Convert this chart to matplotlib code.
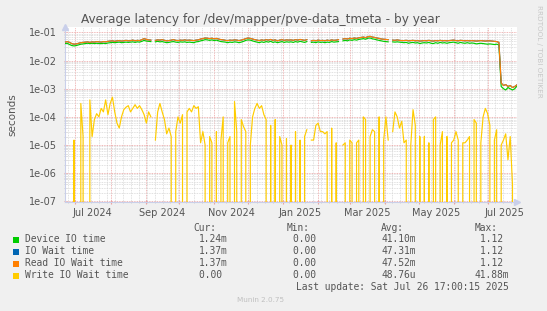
import numpy as np
import pandas as pd
import matplotlib
matplotlib.use("Agg")
import matplotlib.pyplot as plt
import matplotlib.dates as mdates
from matplotlib.patches import Rectangle
from matplotlib.ticker import FuncFormatter, LogLocator, NullFormatter

nan = np.nan

# ---- data (2-day samples, ending at last update) ----
last_update = pd.Timestamp("2025-07-26 17:00:15")
span_days = 400
step_days = 2

read_io_wait = [
    0.045, 0.047, 0.044, 0.040, 0.038, 0.039, 0.041, 0.043, 0.044, 0.045,
    0.046, 0.044, 0.046, 0.045, 0.047, 0.046, 0.045, 0.047, 0.046, 0.048,
    0.049, 0.050, 0.048, 0.050, 0.051, 0.049, 0.050, 0.052, 0.050, 0.051,
    0.053, 0.050, 0.052, 0.051, 0.055, 0.060, 0.056, 0.054, 0.053, nan,
    0.052, 0.054, 0.053, 0.055, 0.052, 0.050, 0.051, 0.053, 0.055, 0.052,
    0.051, 0.053, 0.052, 0.054, 0.052, 0.053, 0.052, 0.051, 0.053, 0.054,
    0.058, 0.060, 0.063, 0.062, 0.060, 0.062, 0.059, 0.061, 0.058, 0.055,
    0.054, 0.052, 0.051, 0.053, 0.052, 0.054, 0.053, 0.051, 0.053, 0.056,
    0.060, 0.063, 0.061, 0.058, 0.055, 0.053, 0.051, 0.054, 0.052, 0.055,
    0.053, 0.056, 0.052, 0.054, 0.050, 0.053, 0.055, 0.052, 0.054, 0.053,
    0.054, 0.052, 0.055, 0.053, 0.056, 0.054, 0.052, 0.055, nan, 0.050,
    0.052, 0.050, 0.053, 0.051, 0.052, 0.050, 0.053, 0.051, 0.054, 0.052,
    0.053, 0.055, nan, 0.058, 0.060, 0.058, 0.062, 0.060, 0.063, 0.061,
    0.064, 0.066, 0.068, 0.065, 0.070, 0.072, 0.068, 0.066, 0.063, 0.061,
    0.058, 0.057, 0.056, 0.055, nan, 0.053, 0.052, 0.054, 0.052, 0.051,
    0.051, 0.052, 0.050, 0.051, 0.052, 0.050, 0.051, 0.049, 0.050, 0.051,
    0.050, 0.052, 0.050, 0.049, 0.051, 0.050, 0.052, 0.050, 0.051, 0.050,
    0.051, 0.052, 0.053, 0.051, 0.050, 0.052, 0.051, 0.050, 0.051, 0.050,
    0.051, 0.050, 0.049, 0.050, 0.051, 0.050, 0.049, 0.050, 0.050, 0.049,
    0.048, 0.047, 0.044, 0.0016, 0.0013, 0.0014, 0.0012, 0.0013, 0.0011, 0.0012,
    0.00137,
]

# IO wait time is drawn underneath and coincides with read IO wait time
io_wait = list(read_io_wait)

device_io = [
    0.040, 0.041, 0.037, 0.034, 0.033, 0.034, 0.036, 0.038, 0.039, 0.040,
    0.041, 0.040, 0.041, 0.040, 0.041, 0.040, 0.040, 0.041, 0.040, 0.042,
    0.043, 0.044, 0.043, 0.044, 0.045, 0.043, 0.044, 0.045, 0.044, 0.045,
    0.046, 0.044, 0.046, 0.045, 0.048, 0.052, 0.049, 0.048, 0.047, nan,
    0.046, 0.048, 0.046, 0.047, 0.045, 0.043, 0.044, 0.046, 0.047, 0.045,
    0.044, 0.046, 0.045, 0.046, 0.044, 0.045, 0.044, 0.043, 0.046, 0.047,
    0.050, 0.052, 0.055, 0.054, 0.052, 0.054, 0.051, 0.053, 0.050, 0.047,
    0.046, 0.045, 0.043, 0.045, 0.044, 0.046, 0.045, 0.043, 0.045, 0.048,
    0.052, 0.054, 0.053, 0.050, 0.047, 0.045, 0.043, 0.046, 0.044, 0.047,
    0.045, 0.048, 0.044, 0.046, 0.043, 0.045, 0.047, 0.044, 0.046, 0.045,
    0.046, 0.044, 0.047, 0.045, 0.048, 0.046, 0.044, 0.047, nan, 0.044,
    0.045, 0.043, 0.046, 0.044, 0.045, 0.043, 0.045, 0.044, 0.047, 0.045,
    0.046, 0.047, nan, 0.050, 0.052, 0.050, 0.054, 0.052, 0.055, 0.053,
    0.056, 0.058, 0.060, 0.057, 0.062, 0.063, 0.059, 0.057, 0.054, 0.052,
    0.050, 0.048, 0.047, 0.046, nan, 0.046, 0.045, 0.046, 0.045, 0.044,
    0.043, 0.044, 0.041, 0.043, 0.044, 0.042, 0.043, 0.040, 0.042, 0.043,
    0.042, 0.044, 0.041, 0.040, 0.043, 0.041, 0.044, 0.042, 0.043, 0.041,
    0.043, 0.044, 0.045, 0.043, 0.041, 0.044, 0.042, 0.041, 0.043, 0.041,
    0.042, 0.041, 0.039, 0.040, 0.041, 0.040, 0.039, 0.038, 0.039, 0.038,
    0.037, 0.038, 0.036, 0.0012, 0.0010, 0.0009, 0.0011, 0.0010, 0.0009, 0.0010,
    0.00124,
]

write_io_wait = [
    0, 0, 0, 0, 1.5e-5, 0, 0, 3e-4, 2e-5, 0,
    0, 4e-4, 2e-5, 8e-5, 1.3e-4, 1e-4, 2e-4, 1.5e-4, 4e-4, 1.2e-4,
    3e-4, 5e-4, 1.5e-4, 6e-5, 4e-5, 1e-4, 1.8e-4, 2.2e-4, 2.5e-4, 1.5e-4,
    2e-4, 2.7e-4, 2e-4, 2.5e-4, 1.8e-4, 1.2e-4, 6e-5, 1.5e-4, 1e-4, nan,
    1.5e-5, 1.5e-4, 3e-4, 1.5e-4, 8e-5, 2.5e-5, 4e-5, 2e-5, 0, 3e-5,
    1e-4, 6e-5, 1.2e-4, 0, 1.5e-4, 2e-4, 1.5e-4, 2.5e-4, 2e-4, 2.3e-4,
    1.2e-5, 3e-5, 1e-5, 0, 2e-5, 1.2e-5, 0, 3e-5, 0, 1.5e-5,
    1e-4, 0, 1.2e-5, 2e-5, 0, 3.5e-4, 3e-5, 0, 8e-5, 4.5e-5,
    3e-5, 0, 1e-5, 1e-4, 2e-4, 3e-4, 2e-4, 2.5e-4, 1.2e-4, 8e-5,
    0, 5e-5, 0, 8e-5, 0, 2e-5, 1e-5, 0, 1.7e-5, 0,
    1e-5, 0, 3e-5, 0, 1.5e-5, 0, 2e-5, 3.5e-5, nan, 1.5e-5,
    1.5e-5, 5e-5, 6e-5, 3e-5, 3e-5, 2.5e-5, 3e-5, 0, 4e-5, 0,
    1.2e-5, 0, nan, 1e-5, 1.2e-5, 0, 1.5e-5, 1.2e-5, 0, 1.2e-5,
    1.5e-5, 0, 1e-4, 8e-5, 0, 2e-5, 3.5e-5, 3e-5, 0, 1e-4,
    0, 1.5e-5, 1e-4, 1.5e-5, nan, 3e-5, 1.5e-4, 1e-4, 4e-5, 7e-5,
    1.2e-5, 1.5e-5, 0, 1e-5, 1.8e-4, 5e-5, 0, 2e-5, 0, 2e-5,
    0, 1.2e-5, 0, 8e-5, 1e-4, 0, 1e-5, 3e-5, 0, 2e-5,
    0, 1.2e-5, 1.5e-5, 3e-5, 1.5e-5, 0, 1.2e-5, 1.2e-5, 1.5e-5, 2e-5,
    0, 8e-5, 6e-5, 0, 1.2e-5, 1e-4, 2e-4, 1.3e-4, 5e-5, 0,
    1.5e-5, 3.5e-5, 0, 1e-5, 1.5e-5, 2.5e-5, 3e-6, 2e-5, 4e-7, 0,
    0,
]

series_names = ["Device IO time", "IO Wait time", "Read IO Wait time", "Write IO Wait time"]
series_colors = ["#00CC00", "#0066B3", "#FF8000", "#FFCC00"]
legend_cur = ["1.24m", "1.37m", "1.37m", "0.00 "]
legend_min = ["0.00 ", "0.00 ", "0.00 ", "0.00 "]
legend_avg = ["41.10m", "47.31m", "47.52m", "48.76u"]
legend_max = ["1.12 ", "1.12 ", "1.12 ", "41.88m"]

x_tick_labels = ["Jul 2024", "Sep 2024", "Nov 2024", "Jan 2025", "Mar 2025", "May 2025", "Jul 2025"]
y_ticks = [1e-7, 1e-6, 1e-5, 1e-4, 1e-3, 1e-2, 1e-1]

# ---- figure ----
start = last_update - pd.Timedelta(days=span_days)
times = pd.date_range(start, periods=len(read_io_wait), freq=f"{step_days}D")

BG = "#F0F0F0"
TXT = "#555555"
fig = plt.figure(figsize=(5.47, 3.11), dpi=100, facecolor=BG)
ax = fig.add_axes([65 / 547, 1 - 202 / 311, 452 / 547, 175 / 311])
ax.set_facecolor("white")

ax.set_yscale("log")
ax.set_ylim(0.95e-7, 0.155)
ax.set_xlim(start, last_update)

data = [device_io, io_wait, read_io_wait, write_io_wait]
for vals, col in zip(data, series_colors):
    ax.plot(times, np.array(vals, dtype=float), color=col, lw=0.85, zorder=3)

# grid
ax.xaxis.set_major_locator(mdates.MonthLocator())
ax.xaxis.set_minor_locator(mdates.WeekdayLocator(byweekday=mdates.MO))
ax.xaxis.set_major_formatter(NullFormatter())
ax.yaxis.set_minor_locator(LogLocator(base=10, subs=np.arange(2, 10), numticks=20))
ax.yaxis.set_minor_formatter(NullFormatter())
ax.set_yticks(y_ticks)
ax.yaxis.set_major_formatter(FuncFormatter(lambda v, p: f"{v:.0e}"))

ax.grid(which="minor", color="#D6D6D6", linestyle=(0, (1, 1)), lw=0.6, zorder=1)
ax.grid(which="major", color="#EBA0A0", linestyle=(0, (1, 1)), lw=0.6, zorder=2)

ax.tick_params(axis="y", which="major", labelsize=7, labelcolor=TXT, length=2,
               color="#EBA0A0", direction="inout", pad=5)
ax.tick_params(axis="y", which="minor", length=1.5, color="#CCCCCC", direction="inout")
ax.tick_params(axis="x", which="major", length=3, color="#EBA0A0", direction="inout")
ax.tick_params(axis="x", which="minor", length=2, color="#CCCCCC", direction="inout")

# x labels centred in the middle of each labelled month
label_dates = [pd.Timestamp(pd.to_datetime(s, format="%b %Y")) + pd.Timedelta(days=15)
               for s in x_tick_labels]
sec = ax.secondary_xaxis("bottom")
sec.set_xticks(label_dates, x_tick_labels)
sec.tick_params(length=0, labelsize=7, labelcolor=TXT, pad=4)
sec.spines["bottom"].set_visible(False)

for s in ["top", "right"]:
    ax.spines[s].set_visible(False)
for s in ["left", "bottom"]:
    ax.spines[s].set_color("#C9CFEA")
    ax.spines[s].set_linewidth(0.8)

# axis arrows
ax.plot([1.0], [0.0], marker=">", ms=4, color="#C9CFEA", transform=ax.transAxes, clip_on=False)
ax.plot([0.0], [1.0], marker="^", ms=4, color="#C9CFEA", transform=ax.transAxes, clip_on=False)

ax.set_ylabel("seconds", fontsize=7.5, color=TXT, labelpad=8)

fig.text(260 / 547, 1 - 19 / 311, "Average latency for /dev/mapper/pve-data_tmeta - by year",
         ha="center", va="center", fontsize=8.7, color=TXT)
fig.text(539 / 547, 1 - 5 / 311, "RRDTOOL / TOBI OETIKER", rotation=-90, ha="center", va="top",
         fontsize=5.2, color="#C8C8C8")

# legend
mono = "DejaVu Sans Mono"
fs = 6.9
def ty(y):
    return 1 - y / 311

fig.text(193 / 547, ty(228), "Cur:", family=mono, fontsize=fs, color=TXT, va="center")
fig.text(287 / 547, ty(228), "Min:", family=mono, fontsize=fs, color=TXT, va="center")
fig.text(381 / 547, ty(228), "Avg:", family=mono, fontsize=fs, color=TXT, va="center")
fig.text(475 / 547, ty(228), "Max:", family=mono, fontsize=fs, color=TXT, va="center")
row_y = [239.5, 251.5, 263.5, 275.5]
for name, col, cu, mi, av, ma, yy in zip(series_names, series_colors, legend_cur,
                                        legend_min, legend_avg, legend_max, row_y):
    fig.patches.append(Rectangle((13 / 547, ty(yy + 3)), 6 / 547, 6 / 311,
                                 transform=fig.transFigure, facecolor=col, edgecolor="none"))
    fig.text(25 / 547, ty(yy), name, family=mono, fontsize=fs, color=TXT, va="center")
    fig.text(199 / 547, ty(yy), cu, family=mono, fontsize=fs, color=TXT, va="center")
    fig.text(293 / 547, ty(yy), mi, family=mono, fontsize=fs, color=TXT, va="center")
    fig.text(381 / 547, ty(yy), av, family=mono, fontsize=fs, color=TXT, va="center")
    fig.text(509 / 547, ty(yy), ma, family=mono, fontsize=fs, color=TXT, va="center", ha="right")

fig.text(509 / 547, ty(287.5), "Last update: Sat Jul 26 17:00:15 2025", family=mono,
         fontsize=fs, color=TXT, va="center", ha="right")
fig.text(261 / 547, ty(300), "Munin 2.0.75", fontsize=5.2, color="#C0C0C0", ha="center", va="center")

fig.savefig("out.png", dpi=100, facecolor=BG)
